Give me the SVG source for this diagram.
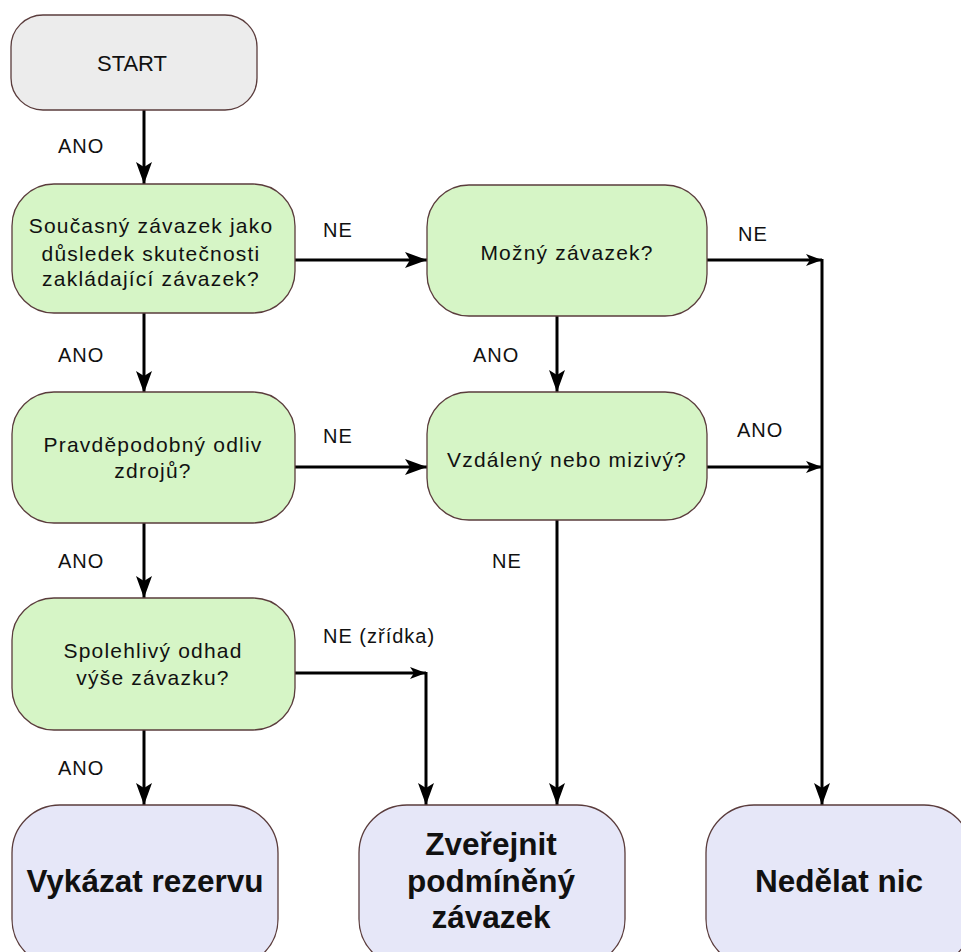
<svg xmlns="http://www.w3.org/2000/svg" width="961" height="952" viewBox="0 0 961 952">
<style>
.box{stroke:#5a3c3c;stroke-width:1.3}
.start{fill:#ececec}
.dec{fill:#d6f5c6}
.end{fill:#e6e7f8}
.t{font-family:"Liberation Sans",Arial,sans-serif;font-size:21px;letter-spacing:1.2px;fill:#111;text-anchor:middle}
.b{font-family:"Liberation Sans",Arial,sans-serif;font-size:31.5px;font-weight:bold;fill:#111;text-anchor:middle}
.lbl{font-family:"Liberation Sans",Arial,sans-serif;font-size:20px;letter-spacing:1px;fill:#111}
.c{fill:none;stroke:#000;stroke-width:3}
</style>
<defs>
<marker id="ah" markerUnits="userSpaceOnUse" markerWidth="24" markerHeight="16" refX="22" refY="8" orient="auto">
<path d="M0,0 L22,8 L0,16 L5,8 Z" fill="#000"/>
</marker>
<marker id="as" markerUnits="userSpaceOnUse" markerWidth="18" markerHeight="12" refX="16" refY="6" orient="auto">
<path d="M0,0 L16,6 L0,12 L4,6 Z" fill="#000"/>
</marker>
</defs>
<rect width="961" height="952" fill="#fff"/>
<g id="connectors">
<path class="c" d="M144 110 V184" marker-end="url(#ah)"/>
<path class="c" d="M144 313 V393" marker-end="url(#ah)"/>
<path class="c" d="M144 523 V598" marker-end="url(#ah)"/>
<path class="c" d="M144 730 V805" marker-end="url(#ah)"/>
<path class="c" d="M295 260 H427" marker-end="url(#ah)"/>
<path class="c" d="M295 467 H427" marker-end="url(#ah)"/>
<path class="c" d="M557 316 V392" marker-end="url(#ah)"/>
<path class="c" d="M557 520 V805" marker-end="url(#ah)"/>
<path class="c" d="M295 673 H426" marker-end="url(#as)"/>
<path class="c" d="M426 672 V805" marker-end="url(#ah)"/>
<path class="c" d="M707 260 H822" marker-end="url(#as)"/>
<path class="c" d="M707 467 H822" marker-end="url(#as)"/>
<path class="c" d="M822 259 V805" marker-end="url(#ah)"/>
<text class="lbl" x="58" y="153">ANO</text>
<text class="lbl" x="58" y="362">ANO</text>
<text class="lbl" x="58" y="568">ANO</text>
<text class="lbl" x="58" y="775">ANO</text>
<text class="lbl" x="323" y="237">NE</text>
<text class="lbl" x="323" y="443">NE</text>
<text class="lbl" x="473" y="362">ANO</text>
<text class="lbl" x="492" y="568">NE</text>
<text class="lbl" x="738" y="241">NE</text>
<text class="lbl" x="737" y="437">ANO</text>
<text class="lbl" x="323" y="643">NE (zřídka)</text>
</g>
<g id="start">
<rect class="box start" x="11" y="15" width="246" height="95" rx="32"/>
<text class="t" x="132" y="71" style="font-size:22px;letter-spacing:0">START</text>
</g>
<g id="q1">
<rect class="box dec" x="12" y="184" width="283" height="129" rx="42"/>
<text class="t" x="151" y="233">Současný závazek jako</text>
<text class="t" x="151" y="261">důsledek skutečnosti</text>
<text class="t" x="151" y="286">zakládající závazek?</text>
</g>
<g id="q2">
<rect class="box dec" x="12" y="392" width="283" height="131" rx="42"/>
<text class="t" x="153" y="452">Pravděpodobný odliv</text>
<text class="t" x="153" y="478">zdrojů?</text>
</g>
<g id="q3">
<rect class="box dec" x="12" y="598" width="283" height="132" rx="42"/>
<text class="t" x="153" y="658">Spolehlivý odhad</text>
<text class="t" x="153" y="685">výše závazku?</text>
</g>
<g id="q4">
<rect class="box dec" x="427" y="185" width="280" height="131" rx="42"/>
<text class="t" x="567" y="260">Možný závazek?</text>
</g>
<g id="q5">
<rect class="box dec" x="427" y="392" width="280" height="128" rx="42"/>
<text class="t" x="567" y="467">Vzdálený nebo mizivý?</text>
</g>
<g id="e1">
<rect class="box end" x="12" y="805" width="266" height="162" rx="48"/>
<text class="b" x="145" y="892">Vykázat rezervu</text>
</g>
<g id="e2">
<rect class="box end" x="359" y="805" width="266" height="162" rx="48"/>
<text class="b" x="491" y="855">Zveřejnit</text>
<text class="b" x="491" y="892">podmíněný</text>
<text class="b" x="491" y="928">závazek</text>
</g>
<g id="e3">
<rect class="box end" x="706" y="805" width="266" height="162" rx="48"/>
<text class="b" x="839" y="892">Nedělat nic</text>
</g>
</svg>
